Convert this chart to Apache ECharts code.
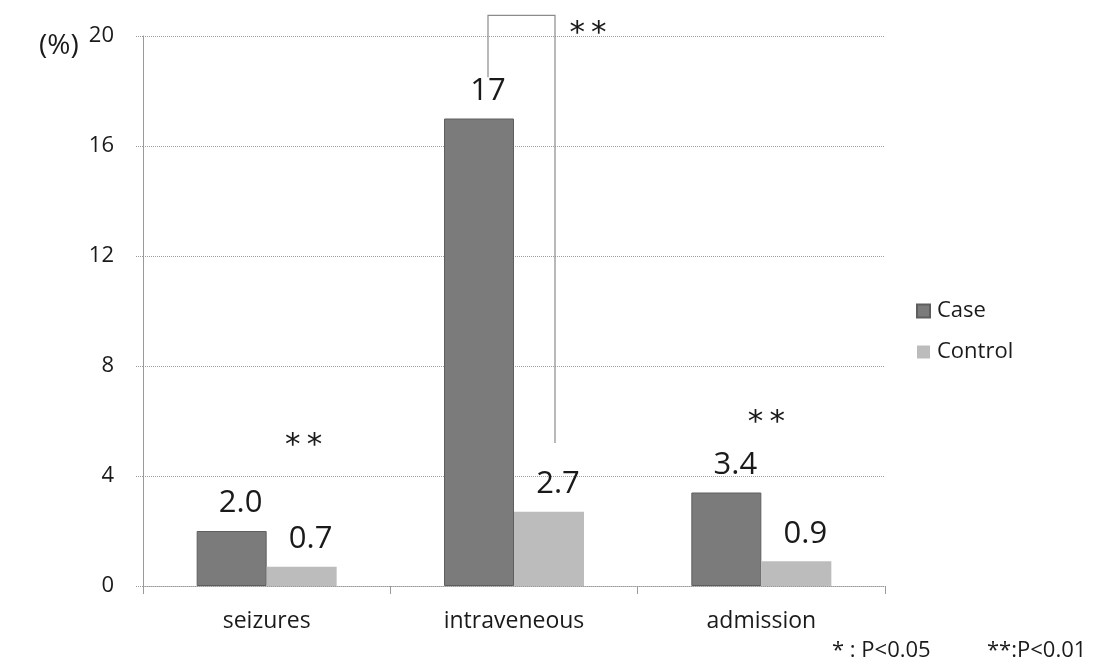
<!DOCTYPE html>
<html>
<head>
<meta charset="utf-8">
<script src="https://cdn.jsdelivr.net/npm/echarts@6/dist/echarts.min.js"></script>
<style>
  html, body { margin: 0; padding: 0; background: #fff; }
  #chart { width: 1099px; height: 665px; }
</style>
</head>
<body>
<div id="chart"></div>
<script>
// Rates (%) of each outcome in case and control groups
const categories = ['seizures', 'intraveneous', 'admission'];
const caseValues = [2.0, 17, 3.4];
const controlValues = [0.7, 2.7, 0.9];
const caseLabels = ['2.0', '17', '3.4'];
const controlLabels = ['0.7', '2.7', '0.9'];
const yTicks = [0, 4, 8, 12, 16, 20];

const FONT = '"Open Sans", "Noto Sans", sans-serif';
const STAR_FONT = '"DejaVu Sans", sans-serif';
const TEXT = '#1a1a1a';
const BAR_W = 70;

const chart = echarts.init(document.getElementById('chart'), null, { renderer: 'canvas' });

const labelStyle = (texts) => ({
  show: true,
  position: 'top',
  distance: 12,
  offset: [9, 0],
  fontFamily: FONT,
  fontSize: 31,
  color: TEXT,
  formatter: (p) => texts[p.dataIndex]
});

chart.setOption({
  backgroundColor: '#fff',
  animation: false,
  grid: { left: 143, right: 214, top: 36, bottom: 79 },
  legend: {
    orient: 'vertical',
    left: 911,
    top: 295,
    itemWidth: 13,
    itemHeight: 13,
    itemGap: 19,
    icon: 'rect',
    textStyle: { fontFamily: FONT, fontSize: 22, color: TEXT, padding: [0, 0, 0, 2] },
    data: ['Case', 'Control']
  },
  xAxis: {
    type: 'category',
    data: categories,
    boundaryGap: true,
    axisLine: { show: true, lineStyle: { color: '#9a9a9a', width: 1, type: 'dotted' } },
    axisTick: { show: true, interval: 0, length: 8, lineStyle: { color: '#9a9a9a' } },
    axisLabel: { margin: 24, fontFamily: FONT, fontSize: 23, color: TEXT, interval: 0 },
    splitLine: { show: false }
  },
  yAxis: {
    type: 'value',
    min: yTicks[0],
    max: yTicks[yTicks.length - 1],
    interval: yTicks[1] - yTicks[0],
    axisLine: { show: true, lineStyle: { color: '#9a9a9a', width: 1 } },
    axisTick: { show: true, length: 8, lineStyle: { color: '#9a9a9a', type: 'dotted' } },
    axisLabel: { margin: 29, fontFamily: FONT, fontSize: 22, color: TEXT },
    splitLine: { show: true, lineStyle: { color: '#a0a0a0', width: 1, type: 'dotted' } }
  },
  series: [
    {
      name: 'Case',
      type: 'bar',
      data: caseValues,
      barWidth: BAR_W,
      barGap: '0%',
      itemStyle: { color: '#7b7b7b', borderColor: '#5e5e5e', borderWidth: 1 },
      label: labelStyle(caseLabels)
    },
    {
      name: 'Control',
      type: 'bar',
      data: controlValues,
      barWidth: BAR_W,
      barGap: '0%',
      itemStyle: { color: '#bcbcbc' },
      label: labelStyle(controlLabels)
    }
  ]
});

// Significance markers and bracket, positioned in data space
const px = (cat, val) => chart.convertToPixel({ gridIndex: 0 }, [cat, val]);
const half = BAR_W / 2;

const iv = 1; // intraveneous
const bracketLeft = px(iv, 18.5);
const bracketTopY = px(iv, 20.75)[1];
const bracketRightBottom = px(iv, 5.2);
const leftX = bracketLeft[0] - half + 9;
const rightX = bracketRightBottom[0] + half + 6;

// "**" centred on (x, y); the asterisk glyph sits high in its em box
const star = (x, y) => ({
  type: 'text',
  x: x, y: y + 8,
  style: { text: '*\u2009*', font: '31px ' + STAR_FONT, fill: TEXT, align: 'center', verticalAlign: 'middle' }
});

const sSeiz = px(0, 5.39);
const sAdm = px(2, 6.23);

chart.setOption({
  graphic: [
    {
      type: 'polyline',
      shape: { points: [[leftX, bracketLeft[1]], [leftX, bracketTopY], [rightX, bracketTopY], [rightX, bracketRightBottom[1]]] },
      style: { stroke: '#8a8a8a', lineWidth: 1.2, fill: null }
    },
    star(rightX + 33, px(iv, 20.36)[1]),
    star(sSeiz[0] + 37, sSeiz[1]),
    star(sAdm[0] + 5, sAdm[1]),
    {
      type: 'text', x: 39, y: 46,
      style: { text: '(%)', font: '28px ' + FONT, fill: TEXT, verticalAlign: 'middle' }
    },
    {
      type: 'text', x: 832, y: 651,
      style: { text: '* : P<0.05', font: '22px ' + FONT, fill: TEXT, verticalAlign: 'middle' }
    },
    {
      type: 'text', x: 987, y: 651,
      style: { text: '**:P<0.01', font: '22px ' + FONT, fill: TEXT, verticalAlign: 'middle' }
    }
  ]
});
</script>
</body>
</html>
